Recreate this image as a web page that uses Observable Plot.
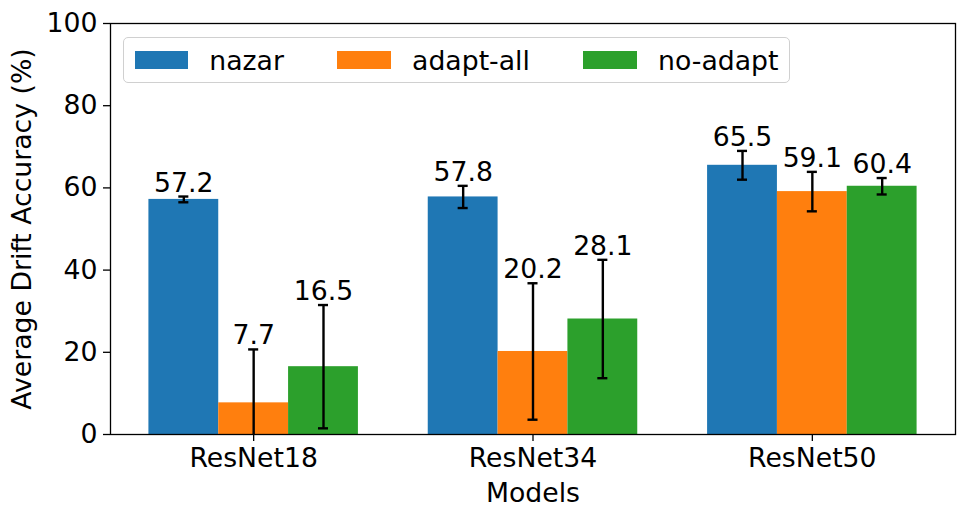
<!DOCTYPE html>
<html>
<head>
<meta charset="utf-8">
<script src="https://cdn.jsdelivr.net/npm/d3@7"></script>
<script src="https://cdn.jsdelivr.net/npm/@observablehq/plot@0.6"></script>
<style>
  html, body { margin: 0; padding: 0; background: white; }
  #wrap { position: relative; width: 969px; height: 521px; font-family: "DejaVu Sans", sans-serif; }
  #legend {
    position: absolute; left: 123px; top: 37px; height: 44px;
    border: 1.3px solid #d0d0d0; border-radius: 5px; background: rgba(255,255,255,0.8);
    display: inline-flex; align-items: center; box-sizing: content-box;
    font-size: 26.7px; color: black; padding-left: 10.5px; padding-right: 10.5px; white-space: nowrap;
  }
  .item { display: flex; align-items: center; margin-right: 53.4px; white-space: nowrap; }
  .item:last-child { margin-right: 0; }
  .sw { width: 53.4px; height: 18.5px; margin-right: 21.4px; flex: none; }
</style>
</head>
<body>
<div id="wrap"></div>
<script>
const models = ["ResNet18", "ResNet34", "ResNet50"];
const seriesNames = ["nazar", "adapt-all", "no-adapt"];
const colors = ["#1f77b4", "#ff7f0e", "#2ca02c"];
const nazar = [57.2, 57.8, 65.5];
const nazarErr = [0.7, 2.7, 3.5];
const adaptAll = [7.7, 20.2, 59.1];
const adaptAllErr = [13.0, 16.6, 4.8];
const noAdapt = [16.5, 28.1, 60.4];
const noAdaptErr = [15.0, 14.4, 2.0];
const yTicks = [0, 20, 40, 60, 80, 100];

const barW = 0.25;     // bar width in category units (as in matplotlib)
const capHalf = 0.018; // half-width of error-bar caps
const values = [nazar, adaptAll, noAdapt];
const errs = [nazarErr, adaptAllErr, noAdaptErr];
const data = [];
models.forEach((m, i) => {
  seriesNames.forEach((s, j) => {
    data.push({model: m, series: s, pos: i + (j - 1) * barW, value: values[j][i], err: errs[j][i]});
  });
});
const span = models.length - 1 + 3 * barW;
const xMin = -1.5 * barW - 0.05 * span;
const xMax = models.length - 1 + 1.5 * barW + 0.05 * span;
const FS = 26.7;

const chart = Plot.plot({
  width: 969, height: 521,
  marginLeft: 110, marginRight: 14, marginTop: 23, marginBottom: 87,
  style: {fontFamily: "DejaVu Sans", fontSize: FS + "px", color: "black", background: "white"},
  x: {domain: [xMin, xMax]},
  y: {domain: [0, 100]},
  color: {domain: seriesNames, range: colors},
  marks: [
    Plot.rectY(data, {x1: d => d.pos - barW / 2, x2: d => d.pos + barW / 2, y: "value", fill: "series"}),
    Plot.ruleX(data, {x: "pos", y1: d => d.value - d.err, y2: d => d.value + d.err, stroke: "black", strokeWidth: 2.4, clip: true}),
    Plot.ruleY(data, {x1: d => d.pos - capHalf, x2: d => d.pos + capHalf, y: d => d.value + d.err, stroke: "black", strokeWidth: 2.4, clip: true}),
    Plot.ruleY(data, {x1: d => d.pos - capHalf, x2: d => d.pos + capHalf, y: d => d.value - d.err, stroke: "black", strokeWidth: 2.4, clip: true}),
    Plot.text(data, {x: "pos", y: d => d.value + d.err, text: d => d.value.toFixed(1), dy: -5, lineAnchor: "bottom", fontSize: FS, fill: "black"}),
    Plot.axisY({ticks: yTicks, tickSize: 7, tickPadding: 6, strokeWidth: 1.3, label: "Average Drift Accuracy (%)", labelAnchor: "center", labelArrow: "none", labelOffset: 98, fontSize: FS}),
    Plot.axisX({ticks: d3.range(models.length), tickFormat: i => models[i], tickSize: 7, tickPadding: 7, strokeWidth: 1.3, label: "Models", labelAnchor: "center", labelArrow: "none", labelOffset: 67, fontSize: FS}),
    Plot.frame({stroke: "black", strokeWidth: 1.3})
  ]
});

const wrap = document.getElementById("wrap");
wrap.appendChild(chart);
const legend = document.createElement("div");
legend.id = "legend";
seriesNames.forEach((s, j) => {
  const it = document.createElement("div");
  it.className = "item";
  const sw = document.createElement("div");
  sw.className = "sw";
  sw.style.background = colors[j];
  const t = document.createElement("span");
  t.textContent = s;
  it.appendChild(sw); it.appendChild(t);
  legend.appendChild(it);
});
wrap.appendChild(legend);
</script>
</body>
</html>
